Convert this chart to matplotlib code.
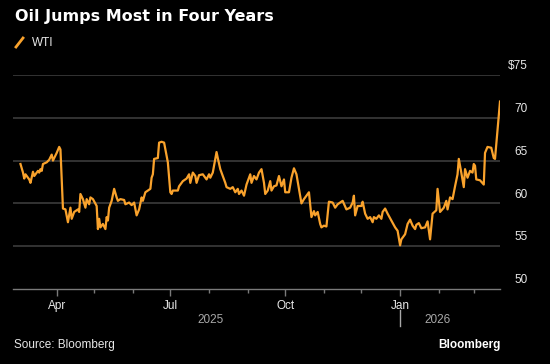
import numpy as np
import pandas as pd
import matplotlib
matplotlib.use("Agg")
import matplotlib.pyplot as plt
import matplotlib.dates as mdates

# WTI crude
dates = [
    "2025-03-03", "2025-03-05", "2025-03-06", "2025-03-07", "2025-03-10", "2025-03-11",
    "2025-03-13", "2025-03-14", "2025-03-17", "2025-03-18", "2025-03-19", "2025-03-20",
    "2025-03-21", "2025-03-24", "2025-03-26", "2025-03-28", "2025-03-29", "2025-04-01",
    "2025-04-03", "2025-04-04", "2025-04-06", "2025-04-08", "2025-04-10", "2025-04-12",
    "2025-04-13", "2025-04-15", "2025-04-18", "2025-04-19", "2025-04-20", "2025-04-22",
    "2025-04-24", "2025-04-25", "2025-04-27", "2025-04-28", "2025-04-30", "2025-05-03",
    "2025-05-04", "2025-05-05", "2025-05-06", "2025-05-08", "2025-05-10", "2025-05-11",
    "2025-05-12", "2025-05-13", "2025-05-15", "2025-05-17", "2025-05-19", "2025-05-20",
    "2025-05-22", "2025-05-25", "2025-05-26", "2025-05-29", "2025-05-31", "2025-06-02",
    "2025-06-04", "2025-06-06", "2025-06-08", "2025-06-09", "2025-06-11", "2025-06-13",
    "2025-06-15", "2025-06-16", "2025-06-17", "2025-06-18", "2025-06-21", "2025-06-22",
    "2025-06-24", "2025-06-26", "2025-06-29", "2025-07-01", "2025-07-02", "2025-07-03",
    "2025-07-07", "2025-07-08", "2025-07-11", "2025-07-14", "2025-07-16", "2025-07-17",
    "2025-07-19", "2025-07-21", "2025-07-22", "2025-07-24", "2025-07-27", "2025-07-30",
    "2025-08-01", "2025-08-02", "2025-08-04", "2025-08-05", "2025-08-07", "2025-08-08",
    "2025-08-10", "2025-08-12", "2025-08-14", "2025-08-15", "2025-08-18", "2025-08-20",
    "2025-08-22", "2025-08-24", "2025-08-25", "2025-08-27", "2025-08-29", "2025-08-31",
    "2025-09-03", "2025-09-04", "2025-09-06", "2025-09-08", "2025-09-10", "2025-09-12",
    "2025-09-14", "2025-09-15", "2025-09-17", "2025-09-19", "2025-09-20", "2025-09-22",
    "2025-09-24", "2025-09-26", "2025-09-28", "2025-09-30", "2025-10-01", "2025-10-04",
    "2025-10-06", "2025-10-08", "2025-10-10", "2025-10-12", "2025-10-14", "2025-10-16",
    "2025-10-18", "2025-10-20", "2025-10-22", "2025-10-24", "2025-10-25", "2025-10-27",
    "2025-10-29", "2025-10-30", "2025-11-01", "2025-11-03", "2025-11-05", "2025-11-08",
    "2025-11-10", "2025-11-12", "2025-11-16", "2025-11-19", "2025-11-22", "2025-11-24",
    "2025-11-25", "2025-11-26", "2025-11-28", "2025-12-01", "2025-12-02", "2025-12-04",
    "2025-12-06", "2025-12-08", "2025-12-10", "2025-12-11", "2025-12-13", "2025-12-15",
    "2025-12-17", "2025-12-18", "2025-12-20", "2025-12-22", "2025-12-25", "2025-12-28",
    "2025-12-30", "2026-01-01", "2026-01-02", "2026-01-05", "2026-01-07", "2026-01-09",
    "2026-01-11", "2026-01-13", "2026-01-14", "2026-01-16", "2026-01-18", "2026-01-21",
    "2026-01-23", "2026-01-25", "2026-01-27", "2026-01-30", "2026-01-31", "2026-02-02",
    "2026-02-05", "2026-02-07", "2026-02-08", "2026-02-10", "2026-02-12", "2026-02-14",
    "2026-02-16", "2026-02-17", "2026-02-19", "2026-02-21", "2026-02-22", "2026-02-24",
    "2026-02-26", "2026-02-28", "2026-03-01", "2026-03-02", "2026-03-03", "2026-03-06",
    "2026-03-09", "2026-03-10", "2026-03-12", "2026-03-15", "2026-03-17", "2026-03-18",
    "2026-03-20", "2026-03-22",
]
wti = [
    64.6, 63.6, 62.9, 63.4, 62.8, 62.4, 63.7, 63.2, 63.8, 63.6, 64.0, 63.8,
    64.6, 64.8, 65.1, 65.7, 65.0, 65.9, 66.6, 66.3, 59.4, 59.3, 57.8, 59.5,
    58.2, 59.0, 59.3, 59.0, 61.1, 60.5, 59.5, 60.5, 59.9, 60.7, 60.5, 59.7,
    57.0, 58.2, 57.2, 57.6, 57.0, 58.4, 58.0, 59.5, 60.3, 61.7, 60.7, 60.3,
    60.5, 60.4, 59.9, 60.1, 59.8, 60.1, 58.6, 59.3, 60.7, 60.3, 61.3, 61.5,
    61.7, 63.0, 63.4, 65.2, 65.3, 67.1, 67.2, 67.1, 64.8, 61.3, 61.1, 61.5,
    61.5, 62.0, 62.6, 62.9, 63.4, 62.4, 63.6, 63.2, 62.4, 63.3, 63.4, 62.8,
    63.4, 63.0, 63.6, 64.4, 66.0, 65.3, 64.0, 63.2, 62.4, 61.9, 61.7, 61.9,
    61.3, 61.7, 61.1, 61.5, 60.9, 62.2, 63.4, 62.4, 63.2, 62.8, 63.6, 64.0,
    62.4, 61.1, 61.5, 62.6, 61.5, 62.0, 62.1, 63.2, 62.0, 62.8, 61.3, 61.3,
    63.0, 64.1, 63.4, 61.7, 60.0, 60.5, 60.9, 61.3, 58.4, 59.1, 58.6, 59.0,
    57.6, 57.2, 57.4, 57.3, 60.2, 60.1, 59.5, 59.9, 60.3, 59.3, 59.5, 60.1,
    60.9, 58.6, 59.7, 59.7, 60.2, 58.8, 58.2, 58.4, 57.8, 58.4, 58.2, 58.6,
    58.2, 59.0, 59.4, 58.8, 58.0, 57.2, 56.8, 55.1, 55.8, 56.4, 57.6, 58.1,
    57.4, 57.0, 57.5, 57.7, 57.1, 57.2, 57.9, 55.8, 58.8, 59.2, 61.7, 59.0,
    59.5, 60.3, 59.3, 60.7, 60.5, 62.0, 63.4, 65.2, 63.6, 61.9, 64.0, 63.0,
    63.8, 63.6, 64.6, 64.4, 62.8, 62.7, 62.2, 65.9, 66.6, 66.5, 65.3, 65.2,
    68.6, 71.9,
]
y_ticks = [50, 55, 60, 65, 70, 75]
years = ["2025", "2026"]

x = pd.to_datetime(dates)

BG = "black"
ORANGE = "#f9a22c"
GRID = "#3c3c3c"
AXC = "#7a7a7a"
TXT = "#e8e8e8"

plt.rcParams["font.family"] = ["Liberation Sans", "DejaVu Sans"]

fig = plt.figure(figsize=(5.5, 3.64), dpi=100, facecolor=BG)
ax = fig.add_axes([13 / 550, 75 / 364, 487 / 550, 214 / 364])
ax.set_facecolor(BG)

ax.plot(x, wti, color=ORANGE, lw=1.6, solid_joinstyle="round", zorder=3)

ax.set_ylim(50, 75)
ax.set_xlim(pd.Timestamp("2025-02-25"), pd.Timestamp("2026-03-22"))

for v in y_ticks[1:]:
    ax.axhline(v, color=GRID, lw=1.2, zorder=1)
for s in ["top", "right", "left"]:
    ax.spines[s].set_visible(False)
ax.spines["bottom"].set_color(AXC)
ax.spines["bottom"].set_linewidth(1.0)
ax.set_yticks([])

# y labels sit just above their gridlines, right side
for v in y_ticks:
    lab = f"${v}" if v == y_ticks[-1] else str(v)
    ax.annotate(lab, xy=(1, v), xycoords=("axes fraction", "data"),
                xytext=(20, 2), textcoords="offset points", ha="right", va="bottom",
                color=TXT, fontsize=8.5)

ax.xaxis.set_major_locator(mdates.MonthLocator(bymonth=[1, 4, 7, 10]))
ax.set_xticks(pd.date_range("2025-04-01", "2026-03-01", freq="MS"), minor=True)
ax.xaxis.set_major_formatter(mdates.DateFormatter("%b"))
ax.tick_params(axis="x", which="major", length=5, width=1, color=AXC,
               labelcolor=TXT, labelsize=8.5, pad=3)
ax.tick_params(axis="x", which="minor", length=3, width=1, color=AXC)

# year labels
xt = ax.get_xaxis_transform()
ax.text(pd.Timestamp("2025-08-02"), -0.145, years[0], transform=xt,
        ha="center", va="center", color="#a8a8a8", fontsize=8.5)
ax.text(pd.Timestamp("2026-01-31"), -0.145, years[1], transform=xt,
        ha="center", va="center", color="#a8a8a8", fontsize=8.5)
ax.plot([pd.Timestamp("2026-01-01")] * 2, [-0.10, -0.172], transform=xt,
        color="#a8a8a8", lw=1, clip_on=False)

fig.text(15 / 550, 1 - 17 / 364, "Oil Jumps Most in Four Years", color="white",
         fontsize=11.5, fontweight="bold", family="DejaVu Sans", va="center", ha="left")
fig.lines.append(plt.Line2D([16 / 550, 23 / 550], [1 - 47 / 364, 1 - 38 / 364],
                            color=ORANGE, lw=2, transform=fig.transFigure))
fig.text(32 / 550, 1 - 43 / 364, "WTI", color=TXT, fontsize=8.5, va="center", ha="left")

fig.text(14 / 550, 1 - 345 / 364, "Source: Bloomberg", color=TXT, fontsize=8.5,
         va="center", ha="left")
fig.text(501 / 550, 1 - 345 / 364, "Bloomberg", color="white", fontsize=8.5,
         fontweight="bold", va="center", ha="right")

fig.savefig("out.png", dpi=100, facecolor=BG)
